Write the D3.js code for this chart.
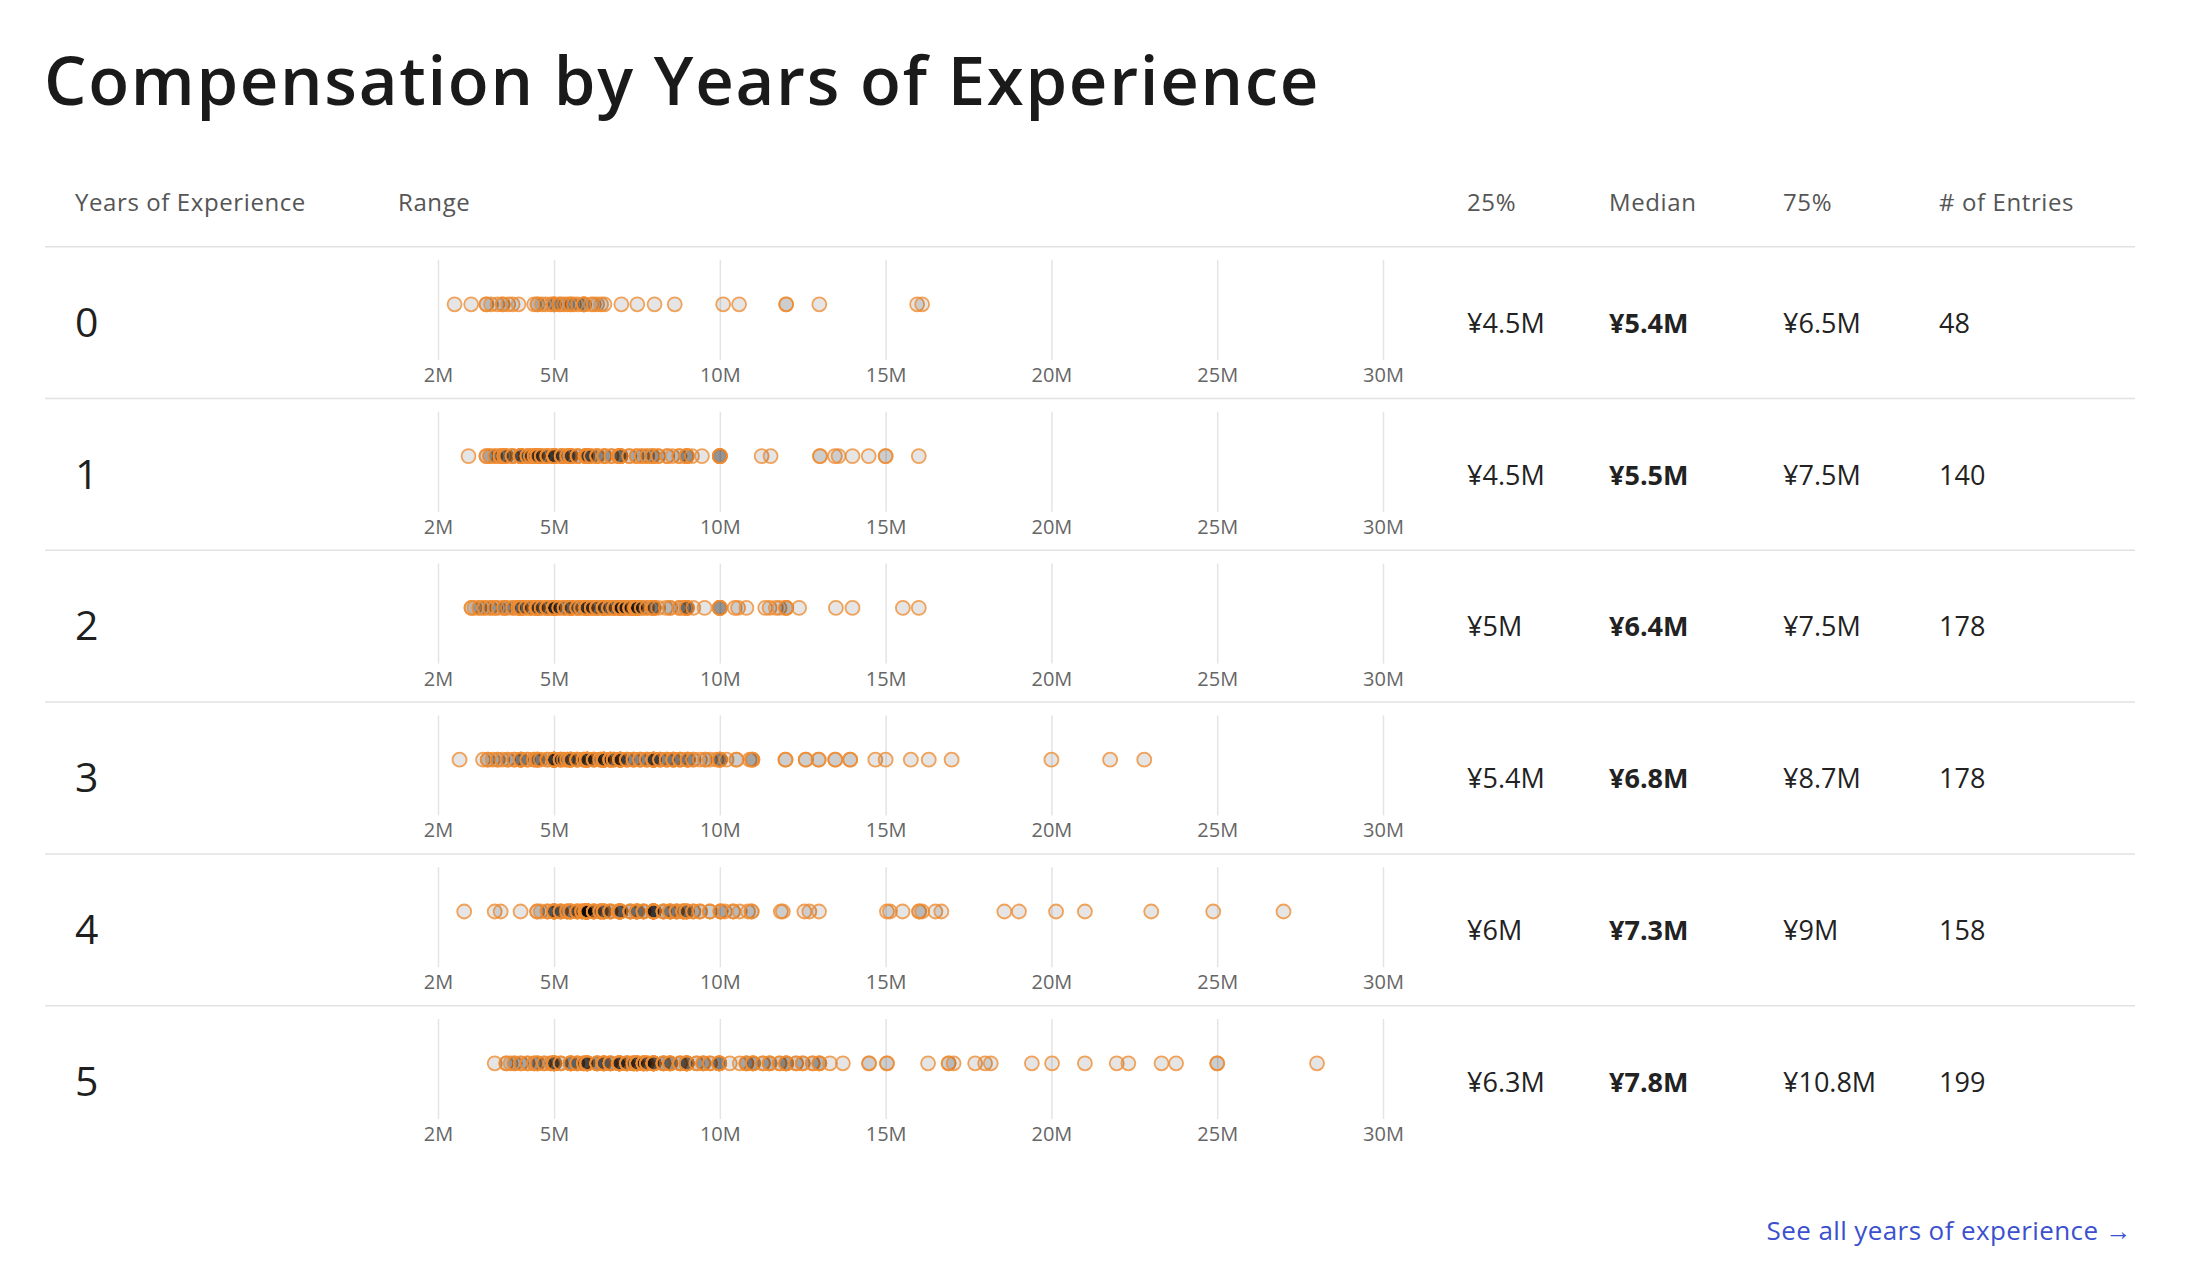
<!DOCTYPE html>
<html>
<head>
<meta charset="utf-8">
<script src="https://cdn.jsdelivr.net/npm/d3@7"></script>
<style>
	body { margin:0; background:#fff; }
	text { font-family:"Open Sans", "Liberation Sans", Arial, sans-serif; }
</style>
</head>
<body>
<svg width="2204" height="1288"></svg>
<script>
// compensation values in millions of yen, [value, how many entries]
var years = ["0","1","2","3","4","5"];
var q25 = ["¥4.5M","¥4.5M","¥5M","¥5.4M","¥6M","¥6.3M"];
var medians = ["¥5.4M","¥5.5M","¥6.4M","¥6.8M","¥7.3M","¥7.8M"];
var q75 = ["¥6.5M","¥7.5M","¥7.5M","¥8.7M","¥9M","¥10.8M"];
var entries = [48,140,178,178,158,199];

var tickValues = [1.5,5,10,15,20,25,30];
var tickLabels = ["2M","5M","10M","15M","20M","25M","30M"];
var headers = ["Years of Experience","Range","25%","Median","75%","# of Entries"];

var year0 = [[2.0,1],[2.5,1],[2.96,2],[3.1,1],[3.29,1],[3.45,2],[3.62,1],[3.75,1],[3.93,1],[4.4,1],
	[4.5,2],[4.63,1],[4.75,1],[4.9,1],[5.0,3],[5.15,1],[5.2,1],[5.3,1],[5.4,1],
	[5.5,2],[5.6,1],[5.72,1],[5.9,4],[6.12,1],[6.2,1],[6.3,1],[6.42,1],
	[6.52,1],[7.03,1],[7.51,1],[8.03,1],[8.64,1],[10.1,1],[10.58,1],[12.0,2],[13.0,1],[15.95,1],[16.1,1]];
var year1 = [[2.42,1],[2.96,2],[3.07,2],[3.23,2],[3.39,3],[3.5,3],[3.56,2],[3.75,3],[3.99,4],[4.0,4],[4.2,3],[4.3,2],[4.42,4],
	[4.5,5],[4.63,3],[4.8,4],[5.0,10],[5.23,4],[5.4,3],[5.5,6],
	[5.71,3],[5.95,4],[6.0,6],[6.12,2],[6.3,3],[6.52,3],[6.73,2],[6.95,3],[7.0,5],[7.27,2],[7.49,2],
	[7.65,2],[7.81,2],[7.97,3],[8.14,2],[8.41,2],[8.57,1],[8.78,2],[9.0,4],[9.16,1],[9.46,1],[10.0,5],
	[11.26,1],[11.53,1],[13.02,2],[13.47,1],[13.58,1],[14.0,1],[14.49,1],[15.0,2],[16.0,1]];
var year2 = [[2.51,2],[2.6,1],[2.75,2],[2.9,2],[3.07,2],[3.22,2],[3.33,1],[3.5,3],[3.61,1],[3.77,2],[3.93,2],[4.0,5],[4.15,2],[4.3,3],[4.47,3],[4.5,4],[4.63,2],[4.8,5],
	[5.0,12],[5.16,2],[5.32,3],[5.5,6],[5.7,3],[5.82,2],[5.98,9],[6.14,3],[6.3,5],
	[6.5,6],[6.66,3],[6.82,4],[7.0,12],[7.15,3],[7.3,5],[7.45,4],[7.5,8],
	[7.65,2],[7.8,2],[7.95,1],[8.0,5],[8.14,1],[8.37,1],[8.5,2],[8.78,2],[8.9,1],[9.0,5],[9.2,1],[9.54,1],[10.0,5],
	[10.45,1],[10.55,1],[10.8,1],[11.37,1],[11.5,1],[11.69,1],[11.8,1],[12.0,3],[12.39,1],[13.5,1],[14.0,1],[15.52,1],[16.0,1]];
var year3 = [[2.15,1],[2.86,1],[3.0,2],[3.15,1],[3.3,2],[3.44,1],[3.6,2],[3.8,2],[4.0,5],[4.2,2],[4.4,2],[4.5,4],[4.6,1],[4.8,2],[5.0,12],[5.2,3],[5.3,1],
	[5.4,2],[5.5,6],[5.7,3],[5.9,3],[6.0,10],[6.2,3],[6.4,3],[6.5,10],[6.7,5],
	[6.8,3],[7.0,10],[7.2,3],[7.4,3],[7.6,3],[7.8,3],[8.0,10],[8.2,3],[8.4,3],[8.6,4],
	[8.8,3],[9.03,4],[9.2,2],[9.4,1],[9.56,2],[9.7,1],[9.9,1],[10.0,5],[10.2,1],[10.5,2],[10.9,1],[10.98,3],
	[11.98,2],[12.59,2],[12.98,2],[13.48,2],[13.93,2],[14.69,1],[15.0,1],[15.76,1],[16.3,1],[16.99,1],[20.0,1],[21.77,1],[22.8,1]];
var year4 = [[2.29,1],[3.21,1],[3.39,1],[3.99,1],[4.49,2],[4.6,1],[4.8,2],[5.0,8],[5.2,3],[5.4,3],[5.5,4],[5.7,3],[5.85,3],[5.95,6],
	[6.0,14],[6.2,4],[6.4,4],[6.5,5],[6.7,3],[6.95,3],[7.0,7],
	[7.3,3],[7.5,5],[7.7,3],[8.0,14],[8.3,3],[8.5,4],[8.7,3],[8.9,4],
	[9.0,4],[9.2,2],[9.4,2],[9.7,2],[10.02,3],[10.15,1],[10.4,2],[10.6,1],[10.85,1],[10.96,2],[11.84,1],[11.9,1],
	[12.55,1],[12.7,1],[12.99,1],[15.04,1],[15.13,1],[15.51,1],[16.01,2],[16.1,1],[16.5,1],[16.68,1],
	[18.58,1],[19.02,1],[20.14,1],[21.01,1],[23.01,1],[24.88,1],[27.0,1]];
var year5 = [[3.21,1],[3.56,2],[3.69,1],[3.81,2],[4.0,2],[4.2,2],[4.4,2],[4.5,3],[4.7,2],[4.9,2],[5.0,8],[5.2,2],[5.5,6],[5.7,3],[5.9,3],[6.0,9],
	[6.3,5],[6.5,6],[6.7,4],[6.97,12],[7.2,5],[7.4,5],[7.5,7],[7.7,6],
	[7.8,4],[8.0,10],[8.3,4],[8.5,5],[8.8,3],[9.0,8],[9.3,2],[9.5,3],[9.7,2],[9.98,6],[10.3,1],[10.6,1],
	[10.8,3],[11.0,4],[11.3,2],[11.5,3],[11.8,2],[12.0,4],[12.3,2],[12.5,2],[12.8,2],[13.0,3],[13.32,1],[13.71,1],
	[14.5,2],[15.04,2],[16.28,1],[16.9,2],[17.05,1],[17.7,1],[18.0,1],[18.17,1],[19.41,1],[20.02,1],
	[21.01,1],[21.97,1],[22.32,1],[23.32,1],[23.76,1],[25.0,2],[28.01,1]];
var salaries = [year0, year1, year2, year3, year4, year5];

var rowTop = 246.7, rowH = 151.8;
var colX = [75, 398, 1467, 1609, 1783, 1939];

var x = d3.scaleLinear().domain([1.5, 30]).range([438, 1383]);

var svg = d3.select("svg");

svg.append("text")
	.attr("x", 44).attr("y", 105)
	.attr("font-size", 67).attr("font-weight", 600)
	.attr("letter-spacing", 1.7)
	.attr("fill", "#1a1a1a")
	.text("Compensation by Years of Experience");

svg.selectAll().data(headers)
	.enter().append("text")
	.attr("x", function(d,i){ return colX[i] })
	.attr("y", 211)
	.attr("font-size", 24).attr("fill", "#555")
	.attr("letter-spacing", 0.6)
	.text(function(d){ return d });

var row = svg.selectAll().data(years)
	.enter().append("g")
	.attr("transform", function(d,i){ return translate(0, rowTop + i*rowH) });

row.append("line")
	.attr("x1", 45).attr("x2", 2135)
	.attr("stroke", "#e2e2e2").attr("stroke-width", 1.5);

row.append("text")
	.attr("x", colX[0]).attr("y", 90)
	.attr("font-size", 41).attr("fill", "#1f1f1f")
	.text(function(d){ return d });

// axis: vertical grid lines + labels under them
row.each(function(d,i){
	var g = d3.select(this);
	var axis = d3.axisBottom(x)
		.tickValues(tickValues)
		.tickSize(100)
		.tickFormat(function(v,j){ return tickLabels[j] });
	var ax = g.append("g")
		.attr("transform", translate(0, 13.3))
		.call(axis);
	ax.select(".domain").remove();
	ax.selectAll(".tick line").attr("stroke", "#e4e4e4").attr("stroke-width", 1.5);
	ax.selectAll(".tick text")
		.attr("y", 122).attr("dy", 0)
		.attr("font-size", 20).attr("fill", "#666")
		.attr("font-family", "Open Sans, Liberation Sans, Arial, sans-serif");

	var values = d3.merge(salaries[i].map(function(p){
		return d3.range(p[1]).map(function(){ return p[0] });
	}));
	g.append("g").selectAll().data(values)
		.enter().append("circle")
		.attr("cx", function(v){ return x(v) })
		.attr("cy", 57.6)
		.attr("r", 7)
		.attr("fill", "#000").attr("fill-opacity", 0.1)
		.attr("stroke", "#f08d33").attr("stroke-opacity", 0.8)
		.attr("stroke-width", 1.8);
});

var cols = [q25, medians, q75, entries];
cols.forEach(function(c,k){
	row.append("text")
		.attr("x", colX[k+2]).attr("y", 86)
		.attr("font-size", 27)
		.attr("font-weight", k == 1 ? 700 : 400)
		.attr("fill", "#222")
		.text(function(d,i){ return c[i] });
});

svg.append("text")
	.attr("x", 2132).attr("y", 1240)
	.attr("text-anchor", "end")
	.attr("font-size", 26).attr("fill", "#3b50cf")
	.attr("letter-spacing", 0.4)
	.text("See all years of experience →");

function translate(x,y){
	return "translate("+x+","+y+")";
}
</script>
</body>
</html>
